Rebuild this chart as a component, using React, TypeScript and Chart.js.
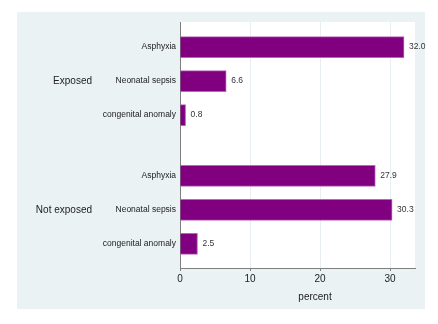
import React, { useEffect, useRef } from "react";
import { Chart, registerables } from "chart.js";

Chart.register(...registerables);

const groups = ["Exposed", "Not exposed"];
const causes = ["Asphyxia", "Neonatal sepsis", "congenital anomaly"];
const exposedValues = [32.0, 6.6, 0.8];
const notExposedValues = [27.9, 30.3, 2.5];
const xTicks = [0, 10, 20, 30];
const xTitle = "percent";

const groupValues = [exposedValues, notExposedValues];
const GROUP_GAP = 0.79;

export default function App() {
  const ref = useRef<HTMLCanvasElement>(null);

  useEffect(() => {
    const canvas = ref.current;
    if (!canvas) return;

    const positions: number[] = [];
    const labelsByPos: Record<string, string> = {};
    const points: { x: number; y: number }[] = [];
    groups.forEach((g, gi) => {
      causes.forEach((c, ci) => {
        const pos = gi * (causes.length + GROUP_GAP) + ci;
        positions.push(pos);
        labelsByPos[pos.toFixed(3)] = c;
        points.push({ x: groupValues[gi][ci], y: pos });
      });
    });
    const lastPos = positions[positions.length - 1];

    const bgPlugin = {
      id: "bg",
      beforeDraw(chart: any) {
        const { ctx, chartArea } = chart;
        ctx.save();
        ctx.fillStyle = "#ffffff";
        ctx.fillRect(0, 0, chart.width, chart.height);
        ctx.fillStyle = "#eaf2f3";
        ctx.fillRect(17, 12, 408, 297);
        ctx.fillStyle = "#ffffff";
        ctx.fillRect(chartArea.left, chartArea.top, chartArea.right - chartArea.left, chartArea.bottom - chartArea.top);
        ctx.restore();
      },
    };

    const textPlugin = {
      id: "texts",
      afterDatasetsDraw(chart: any) {
        const { ctx } = chart;
        const meta = chart.getDatasetMeta(0);
        const yScale = chart.scales.y;
        ctx.save();
        ctx.fillStyle = "#333333";
        ctx.font = "8.5px 'Liberation Sans', Arial, sans-serif";
        ctx.textAlign = "left";
        ctx.textBaseline = "middle";
        meta.data.forEach((el: any, i: number) => {
          ctx.fillText(points[i].x.toFixed(1), el.x + 5, el.y);
        });
        ctx.fillStyle = "#222222";
        ctx.font = "10px 'Liberation Sans', Arial, sans-serif";
        ctx.textAlign = "right";
        groups.forEach((g, gi) => {
          const mid = gi * (causes.length + GROUP_GAP) + (causes.length - 1) / 2;
          ctx.fillText(g, 92, yScale.getPixelForValue(mid));
        });
        ctx.textAlign = "center";
        ctx.fillText(xTitle, 315, 297);
        ctx.restore();
      },
    };

    const chart = new Chart(canvas, {
      type: "bar",
      data: {
        datasets: [
          {
            data: points,
            backgroundColor: "#800080",
            borderColor: "#b866b8",
            borderWidth: 1,
            barThickness: 21,
          },
        ],
      },
      options: {
        indexAxis: "y",
        animation: false,
        responsive: false,
        maintainAspectRatio: false,
        layout: { padding: { left: 0, top: 22, right: 23, bottom: 0 } },
        plugins: { legend: { display: false }, tooltip: { enabled: false } },
        scales: {
          x: {
            type: "linear",
            min: 0,
            max: 33.57,
            afterBuildTicks(scale: any) {
              scale.ticks = xTicks.map((v) => ({ value: v }));
            },
            afterFit(scale: any) {
              scale.height = 56;
            },
            ticks: {
              color: "#222222",
              font: { size: 10, family: "'Liberation Sans', Arial, sans-serif" },
              padding: 2,
            },
            grid: {
              color: (c: any) => (c.tick && c.tick.value === 0 ? "rgba(0,0,0,0)" : "#e6eff1"),
              tickColor: "#7f7f7f",
              tickLength: 3,
              lineWidth: 1,
            },
            border: { display: true, color: "#7f7f7f", width: 1 },
          },
          y: {
            type: "linear",
            reverse: true,
            offset: false,
            min: -0.74,
            max: lastPos + 0.71,
            afterBuildTicks(scale: any) {
              scale.ticks = positions.map((v) => ({ value: v }));
            },
            afterFit(scale: any) {
              scale.width = 180;
            },
            ticks: {
              color: "#222222",
              font: { size: 8.5, family: "'Liberation Sans', Arial, sans-serif" },
              padding: 4,
              autoSkip: false,
              callback: (v: any) => labelsByPos[Number(v).toFixed(3)] ?? "",
            },
            grid: { display: false, drawTicks: false },
            border: { display: true, color: "#7f7f7f", width: 1 },
          },
        },
      },
      plugins: [bgPlugin, textPlugin],
    });

    return () => chart.destroy();
  }, []);

  return (
    <div style={{ position: "fixed", left: 0, top: 0, width: 438, height: 324 }}>
      <canvas ref={ref} width={438} height={324} style={{ width: 438, height: 324 }} />
    </div>
  );
}
